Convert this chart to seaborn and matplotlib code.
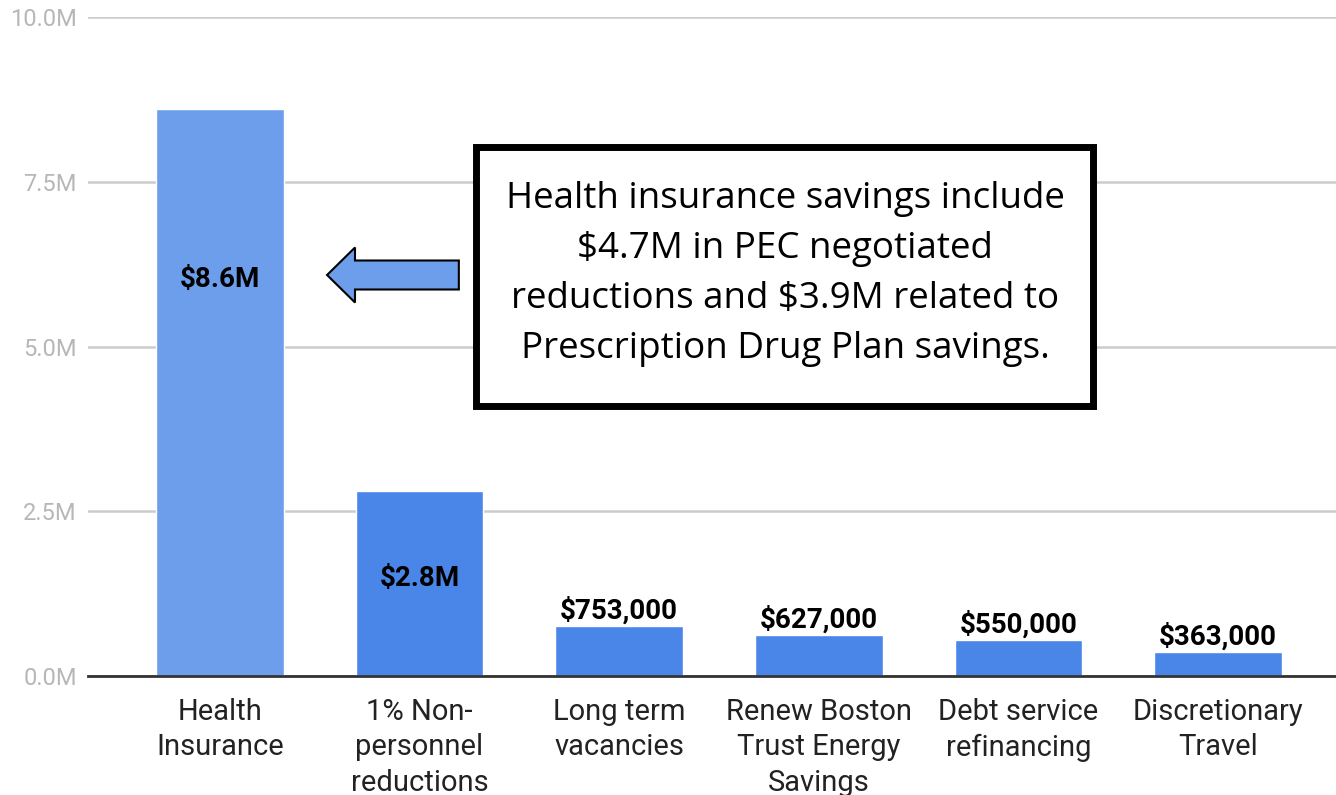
import numpy as np
import pandas as pd
import seaborn as sns
import matplotlib.pyplot as plt
from matplotlib.patches import FancyArrow, Rectangle

# 数据
categories = ["Health\nInsurance", "1% Non-\npersonnel\nreductions", "Long term\nvacancies",
              "Renew Boston\nTrust Energy\nSavings", "Debt service\nrefinancing", "Discretionary\nTravel"]
savings = [8600000, 2800000, 753000, 627000, 550000, 363000]
bar_labels = ["$8.6M", "$2.8M", "$753,000", "$627,000", "$550,000", "$363,000"]
bar_colors = ["#6d9eeb", "#4a86e8", "#4a86e8", "#4a86e8", "#4a86e8", "#4a86e8"]
y_ticks = [0, 2500000, 5000000, 7500000, 10000000]
y_tick_labels = ["0.0M", "2.5M", "5.0M", "7.5M", "10.0M"]
note = ("Health insurance savings include\n$4.7M in PEC negotiated\n"
        "reductions and $3.9M related to\nPrescription Drug Plan savings.")

df = pd.DataFrame({"category": categories, "savings": savings})

sns.set_style("white")
plt.rcParams['font.family'] = ['Roboto', 'DejaVu Sans']

fig = plt.figure(figsize=(13.36, 7.95), dpi=100)
ax = fig.add_axes([0.0659, 0.1497, 0.9341, 0.8289])

sns.barplot(data=df, x="category", y="savings", hue="category", palette=bar_colors,
            legend=False, width=0.64, saturation=1, ax=ax)

ax.set_xlim(-0.66, 5.59)
ax.set_ylim(0, 10000000)
ax.set_yticks(y_ticks)
ax.set_yticklabels(y_tick_labels, color="#b7b7b7", fontsize=17)
ax.tick_params(axis="x", labelsize=21, colors="#222222", length=0, pad=16)
ax.tick_params(axis="y", length=0, pad=8)
for lbl in ax.get_xticklabels():
    lbl.set_linespacing(1.33)
ax.set_xlabel("")
ax.set_ylabel("")
ax.grid(axis="y", color="#cccccc", lw=1.8)
ax.set_axisbelow(True)
for s in ["top", "right", "left"]:
    ax.spines[s].set_visible(False)
ax.spines["bottom"].set_color("#333333")
ax.spines["bottom"].set_linewidth(2)

# 柱子上的标签
for i, (v, lab) in enumerate(zip(savings, bar_labels)):
    if i == 0:
        ax.text(i, v * 0.70, lab, ha="center", va="center", fontsize=20,
                fontweight="bold", color="black")
    elif i == 1:
        ax.text(i, v * 0.53, lab, ha="center", va="center", fontsize=20,
                fontweight="bold", color="black")
    else:
        ax.annotate(lab, (i, v), xytext=(0, 1), textcoords="offset points",
                    ha="center", va="bottom", fontsize=20, fontweight="bold", color="black")

# 箭头
ax.add_patch(FancyArrow(1.197, 6085000, -0.52, 0, width=440000, head_width=835000,
                        head_length=0.14, length_includes_head=False,
                        facecolor="#6d9eeb", edgecolor="black", lw=1.5, zorder=5))

# 说明框
fig.patches.append(Rectangle((476 / 1336, 1 - 406 / 795), 617 / 1336, 259 / 795,
                             transform=fig.transFigure, facecolor="white",
                             edgecolor="black", lw=5, zorder=6))
fig.text(785 / 1336, 1 - 274 / 795, note, ha="center", va="center", fontsize=26.5,
         family=["Open Sans", "DejaVu Sans"], linespacing=1.52, color="black", zorder=7)

plt.savefig("out.png", dpi=100)
